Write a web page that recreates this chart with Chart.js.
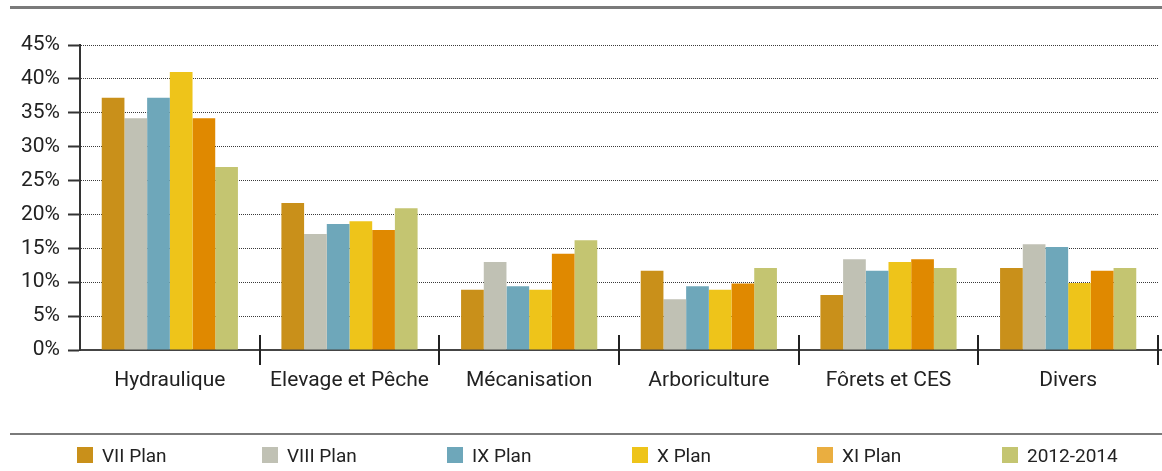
<!DOCTYPE html>
<html lang="fr">
<head>
<meta charset="utf-8">
<title>Répartition des investissements agricoles</title>
<script src="https://cdn.jsdelivr.net/npm/chart.js@4/dist/chart.umd.min.js"></script>
<style>
  html, body { margin: 0; padding: 0; background: #fff; }
  #graphe { display: block; }
</style>
</head>
<body>
<canvas id="graphe" width="1162" height="471"></canvas>
<script>
// Secteurs
const secteurs = ['Hydraulique', 'Elevage et Pêche', 'Mécanisation', 'Arboriculture', 'Fôrets et CES', 'Divers'];

// Parts (%) par période
const planVII   = [37.2, 21.7,  8.9, 11.7,  8.1, 12.1];
const planVIII  = [34.2, 17.1, 13.0,  7.5, 13.4, 15.6];
const planIX    = [37.2, 18.6,  9.4,  9.4, 11.7, 15.2];
const planX     = [41.0, 19.0,  8.9,  8.9, 13.0,  9.9];
const planXI    = [34.2, 17.7, 14.2,  9.8, 13.4, 11.7];
const p20122014 = [27.0, 20.9, 16.2, 12.1, 12.1, 12.1];

const periodes = ['VII Plan', 'VIII Plan', 'IX Plan', 'X Plan', 'XI Plan', '2012-2014'];
const valeurs = [planVII, planVIII, planIX, planX, planXI, p20122014];

// Graduations de l'axe vertical
const graduations = [0, 5, 10, 15, 20, 25, 30, 35, 40, 45];

const couleurs = ['#c9901a', '#c0c1b4', '#6ea7ba', '#eec41a', '#e08900', '#c4c571'];
const couleursLegende = ['#c9901a', '#c0c1b4', '#6ea7ba', '#eec41a', '#eaae40', '#c4c571'];

const police = 'Roboto, "DejaVu Sans", sans-serif';

// Traits de séparation entre secteurs, filets et légende
const habillage = {
    id: 'habillage',
    afterDraw(chart) {
        const ctx = chart.ctx;
        const area = chart.chartArea;
        const xs = chart.scales.x;
        const pas = (area.right - area.left) / secteurs.length;
        ctx.save();

        // filet du haut
        ctx.strokeStyle = '#7a7a7a';
        ctx.lineWidth = 3;
        ctx.beginPath();
        ctx.moveTo(10, 7.5);
        ctx.lineTo(chart.width, 7.5);
        ctx.stroke();

        // prolongement de l'axe horizontal
        ctx.strokeStyle = '#444';
        ctx.lineWidth = 2;
        ctx.beginPath();
        ctx.moveTo(area.right, area.bottom);
        ctx.lineTo(chart.width, area.bottom);
        ctx.stroke();

        // séparateurs de secteurs
        ctx.strokeStyle = '#222';
        ctx.lineWidth = 2;
        for (let i = 0; i < secteurs.length; i++) {
            const x = Math.round(xs.getPixelForValue(i) + pas / 2);
            ctx.beginPath();
            ctx.moveTo(x, area.bottom - 15);
            ctx.lineTo(x, area.bottom + 15);
            ctx.stroke();
        }

        // filet de la légende
        ctx.strokeStyle = '#7a7a7a';
        ctx.lineWidth = 2;
        ctx.beginPath();
        ctx.moveTo(10, 434);
        ctx.lineTo(chart.width, 434);
        ctx.stroke();

        // légende
        ctx.font = '19px ' + police;
        ctx.textBaseline = 'alphabetic';
        ctx.textAlign = 'left';
        chart.data.datasets.forEach((ds, i) => {
            const x = 77 + i * 185;
            ctx.fillStyle = couleursLegende[i];
            ctx.fillRect(x, 447, 16, 16);
            ctx.fillStyle = '#222';
            ctx.fillText(ds.label, x + 25, 462);
        });
        ctx.restore();
    }
};

new Chart(document.getElementById('graphe'), {
    type: 'bar',
    data: {
        labels: secteurs,
        datasets: periodes.map((p, i) => ({
            label: p,
            data: valeurs[i],
            backgroundColor: couleurs[i],
            borderWidth: 0,
            categoryPercentage: 0.758,
            barPercentage: 1
        }))
    },
    options: {
        responsive: false,
        animation: false,
        layout: { padding: { top: 45, right: 4, left: 0, bottom: 0 } },
        plugins: {
            legend: { display: false },
            tooltip: { enabled: false }
        },
        scales: {
            x: {
                grid: { display: false, drawTicks: false },
                border: { display: true, color: '#444', width: 2 },
                ticks: {
                    color: '#222',
                    font: { family: police, size: 21 },
                    padding: 18,
                    maxRotation: 0,
                    autoSkip: false
                },
                afterFit(s) { s.height = 121; }
            },
            y: {
                min: graduations[0],
                max: graduations[graduations.length - 1],
                afterBuildTicks(s) { s.ticks = graduations.map(v => ({ value: v })); },
                grid: {
                    color: c => (c.tick && c.tick.value === 0) ? 'rgba(0,0,0,0)' : '#3a3a3a',
                    lineWidth: 1,
                    tickLength: 12,
                    tickColor: '#333',
                    tickWidth: 2,
                    tickBorderDash: []
                },
                border: { display: true, color: '#333', width: 2, dash: [1, 1] },
                ticks: {
                    color: '#222',
                    font: { family: police, size: 21 },
                    padding: 8,
                    callback: v => v + '%'
                },
                afterFit(s) { s.width = 80; }
            }
        }
    },
    plugins: [habillage]
});
</script>
</body>
</html>
